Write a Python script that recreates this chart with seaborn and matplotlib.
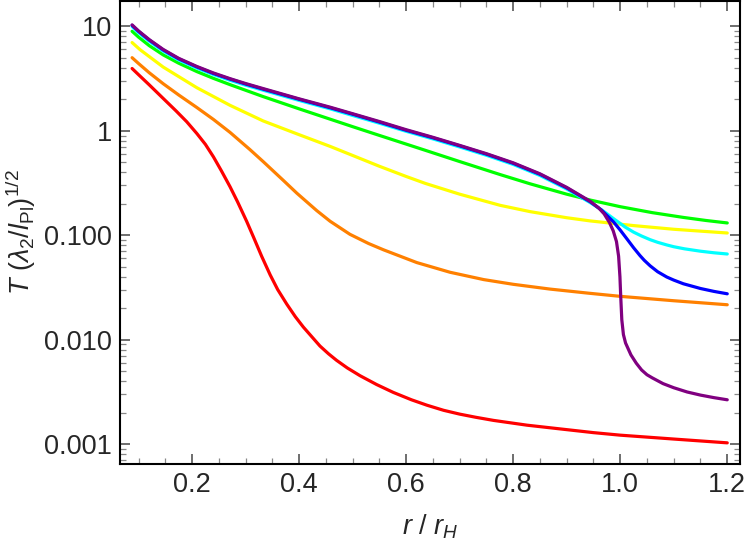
import numpy as np
import pandas as pd
import matplotlib
matplotlib.use("Agg")
import matplotlib.pyplot as plt
import matplotlib.ticker as mticker
import seaborn as sns

# curves (x = r/r_H, y = T (lambda2/lPl)^1/2)
red_x = [0.088, 0.1, 0.12, 0.146, 0.17, 0.19, 0.209, 0.225, 0.24, 0.255, 0.271, 0.285, 0.302,
         0.315, 0.33, 0.346, 0.36, 0.377, 0.393, 0.408, 0.425, 0.439, 0.455, 0.47, 0.49, 0.514,
         0.545, 0.576, 0.61, 0.639, 0.67, 0.70, 0.73, 0.763, 0.826, 0.888, 0.95, 1.0, 1.1, 1.2]
red_y = [3.94, 3.44, 2.75, 2.04, 1.55, 1.22, 0.94, 0.74, 0.562, 0.412, 0.291, 0.209, 0.136,
         0.0955, 0.063, 0.0417, 0.0302, 0.0219, 0.0166, 0.0132, 0.0105, 0.0087, 0.00733,
         0.00635, 0.00537, 0.00452, 0.00372, 0.00313, 0.00266, 0.00236, 0.00211, 0.00194,
         0.00181, 0.00169, 0.00152, 0.0014, 0.00129, 0.00122, 0.00112, 0.00103]

orange_x = [0.088, 0.1, 0.12, 0.146, 0.175, 0.209, 0.24, 0.271, 0.308, 0.333, 0.371, 0.396,
            0.433, 0.458, 0.495, 0.53, 0.558, 0.62, 0.682, 0.745, 0.8, 0.869, 0.94, 1.0, 1.1, 1.2]
orange_y = [5.0, 4.4, 3.59, 2.82, 2.2, 1.667, 1.282, 0.964, 0.661, 0.506, 0.333, 0.252,
            0.172, 0.136, 0.102, 0.0832, 0.0724, 0.0547, 0.0442, 0.0376, 0.0339, 0.0305,
            0.0279, 0.026, 0.0236, 0.0216]

yellow_x = [0.088, 0.103, 0.146, 0.209, 0.271, 0.333, 0.396, 0.458, 0.5, 0.55, 0.6, 0.636,
            0.7, 0.776, 0.832, 0.9, 0.944, 1.025, 1.1, 1.2]
yellow_y = [6.98, 5.96, 4.07, 2.58, 1.75, 1.24, 0.933, 0.708, 0.58, 0.457, 0.365, 0.313,
            0.247, 0.193, 0.168, 0.147, 0.137, 0.1236, 0.114, 0.105]

green_x = [0.088, 0.1, 0.12, 0.146, 0.175, 0.209, 0.24, 0.271, 0.333, 0.4, 0.458, 0.5, 0.55,
           0.6, 0.636, 0.7, 0.776, 0.832, 0.9, 0.944, 1.0, 1.06, 1.118, 1.16, 1.2]
green_y = [8.95, 7.87, 6.52, 5.32, 4.43, 3.68, 3.17, 2.76, 2.12, 1.62, 1.29, 1.094, 0.902,
           0.745, 0.649, 0.507, 0.38, 0.31, 0.247, 0.217, 0.1875, 0.1644, 0.148, 0.1384, 0.131]

cyan_x = [0.088, 0.1, 0.12, 0.146, 0.175, 0.209, 0.24, 0.271, 0.3, 0.333, 0.4, 0.458, 0.5,
          0.55, 0.6, 0.65, 0.7, 0.75, 0.8, 0.85, 0.9, 0.944, 0.96, 0.97, 0.99, 1.01, 1.025,
          1.04, 1.056, 1.07, 1.087, 1.1, 1.12, 1.15, 1.175, 1.2]
cyan_y = [9.94, 8.7, 7.19, 5.79, 4.76, 3.98, 3.45, 3.04, 2.73, 2.44, 1.95, 1.62, 1.40,
          1.18, 0.987, 0.835, 0.699, 0.582, 0.476, 0.373, 0.277, 0.205, 0.182, 0.168, 0.141,
          0.119, 0.107, 0.0982, 0.0906, 0.0855, 0.0807, 0.0776, 0.0741, 0.0703, 0.0679, 0.0661]

blue_x = [0.088, 0.1, 0.12, 0.146, 0.175, 0.209, 0.24, 0.271, 0.3, 0.333, 0.4, 0.458, 0.5,
          0.55, 0.6, 0.65, 0.7, 0.75, 0.8, 0.85, 0.9, 0.944, 0.965, 0.9875, 1.0, 1.0125,
          1.025, 1.037, 1.045, 1.056, 1.07, 1.087, 1.1, 1.118, 1.15, 1.175, 1.2]
blue_y = [10.2, 8.93, 7.38, 5.94, 4.88, 4.08, 3.53, 3.12, 2.8, 2.5, 2.0, 1.66, 1.44,
          1.21, 1.01, 0.856, 0.717, 0.597, 0.488, 0.383, 0.284, 0.209, 0.174, 0.134, 0.112,
          0.0923, 0.0759, 0.0638, 0.0575, 0.0509, 0.0447, 0.0398, 0.0372, 0.0343, 0.0309,
          0.029, 0.0275]

purple_x = [0.088, 0.1, 0.12, 0.146, 0.175, 0.209, 0.24, 0.271, 0.3, 0.333, 0.4, 0.458, 0.5,
            0.55, 0.6, 0.65, 0.7, 0.75, 0.8, 0.85, 0.9, 0.944, 0.96, 0.97, 0.98, 0.987, 0.993,
            0.997, 0.9995, 1.001, 1.003, 1.006, 1.01, 1.02, 1.03, 1.04, 1.05, 1.06, 1.08, 1.1,
            1.125, 1.15, 1.175, 1.2]
purple_y = [10.3, 9.02, 7.45, 6.0, 4.93, 4.12, 3.57, 3.15, 2.83, 2.53, 2.02, 1.68, 1.455,
            1.225, 1.023, 0.865, 0.724, 0.603, 0.493, 0.387, 0.287, 0.211, 0.182, 0.16, 0.132,
            0.11, 0.087, 0.063, 0.040, 0.0257, 0.0155, 0.0112, 0.0093, 0.00716, 0.00596,
            0.00513, 0.00462, 0.00431, 0.0038, 0.00347, 0.00316, 0.00295, 0.00279, 0.00266]

series = [
    ("red", red_x, red_y, "#ff0000"),
    ("orange", orange_x, orange_y, "#ff8000"),
    ("yellow", yellow_x, yellow_y, "#ffff00"),
    ("green", green_x, green_y, "#00ff00"),
    ("cyan", cyan_x, cyan_y, "#00ffff"),
    ("blue", blue_x, blue_y, "#0000ff"),
    ("purple", purple_x, purple_y, "#800080"),
]

y_ticks = [0.001, 0.01, 0.1, 1, 10]
y_ticklabels = ["0.001", "0.010", "0.100", "1", "10"]
x_ticks = [0.2, 0.4, 0.6, 0.8, 1.0, 1.2]
x_ticklabels = ["0.2", "0.4", "0.6", "0.8", "1.0", "1.2"]

frames = [pd.DataFrame({"r": xs, "T": ys, "curve": name}) for name, xs, ys, _ in series]
df = pd.concat(frames, ignore_index=True)
palette = {name: c for name, _, _, c in series}

sns.set_style("ticks")
plt.rcParams["font.family"] = ["Liberation Sans", "DejaVu Sans"]
plt.rcParams["mathtext.fontset"] = "custom"
plt.rcParams["mathtext.rm"] = "Liberation Sans"
plt.rcParams["mathtext.it"] = "Liberation Sans:italic"

fig = plt.figure(figsize=(7.5, 5.48), dpi=100)
ax = fig.add_axes([0.16, 0.153, 0.827, 0.845])

sns.lineplot(data=df, x="r", y="T", hue="curve", palette=palette, hue_order=[s[0] for s in series],
             estimator=None, sort=False, linewidth=2.3, legend=False, ax=ax)
for ln in ax.get_lines():
    ln.set_solid_joinstyle("round")

ax.set_yscale("log")
ax.set_xlim(0.0654, 1.2243)
ax.set_ylim(0.000644, 17.4)

ax.set_yticks(y_ticks)
ax.set_yticklabels(y_ticklabels)
ax.yaxis.set_minor_locator(mticker.LogLocator(base=10, subs=np.arange(2, 10)))
ax.yaxis.set_minor_formatter(mticker.NullFormatter())
ax.set_xticks(x_ticks)
ax.set_xticklabels(x_ticklabels)
ax.xaxis.set_minor_locator(mticker.MultipleLocator(0.05))

ax.tick_params(which="both", direction="in", top=True, right=True, labelsize=19.5, pad=6)
ax.tick_params(which="major", length=7, width=1.2, color="#555555")
ax.tick_params(which="minor", length=4, width=0.9, color="#888888")
for sp in ax.spines.values():
    sp.set_linewidth(1.5)
    sp.set_color("black")

ax.set_xlabel(r"$r\ /\ r_H$", fontsize=19.5, labelpad=10)
ax.set_ylabel(r"$T\ (\lambda_2/l_{\mathrm{Pl}})^{1/2}$", fontsize=19.5, labelpad=4)

fig.savefig("out.png", dpi=100)
